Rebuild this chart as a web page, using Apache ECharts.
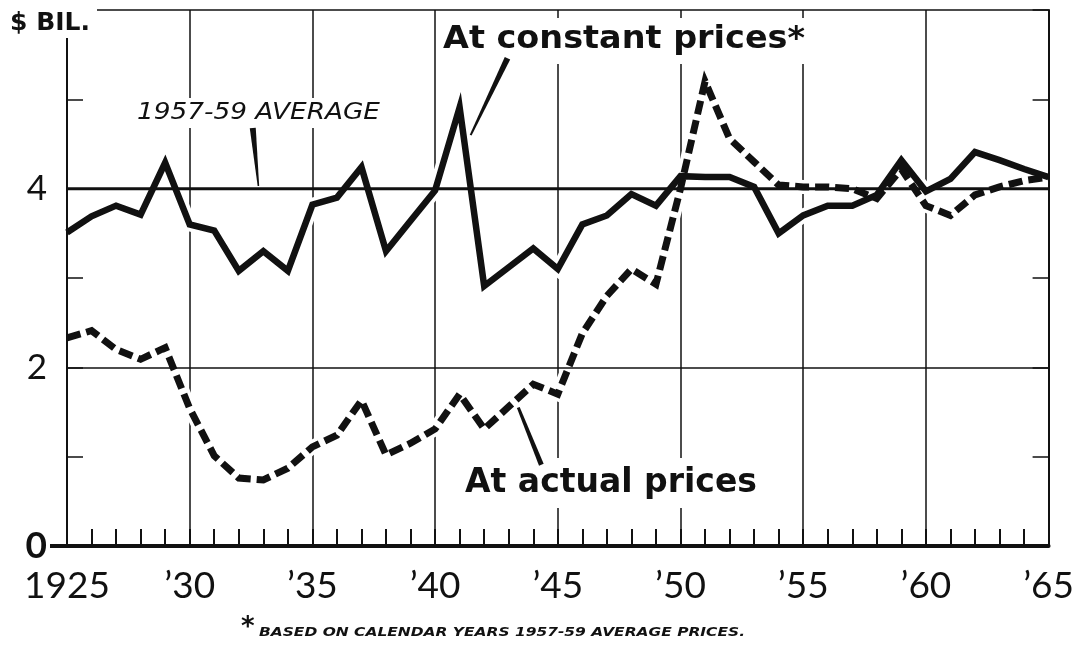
<!DOCTYPE html>
<html>
<head>
<meta charset="utf-8">
<script src="https://cdn.jsdelivr.net/npm/echarts@6/dist/echarts.min.js"></script>
<style>
html,body{margin:0;padding:0;background:#fff;}
#chart{width:1077px;height:648px;}
</style>
</head>
<body>
<div id="chart"></div>
<script>
// ---- data ----
const years = [1925,1926,1927,1928,1929,1930,1931,1932,1933,1934,
               1935,1936,1937,1938,1939,1940,1941,1942,1943,1944,
               1945,1946,1947,1948,1949,1950,1951,1952,1953,1954,
               1955,1956,1957,1958,1959,1960,1961,1962,1963,1964,1965];
const constantPrices = [3.51,3.69,3.81,3.71,4.29,3.60,3.53,3.08,3.30,3.08,
                        3.82,3.90,4.24,3.30,3.64,3.98,4.91,2.91,3.12,3.33,
                        3.10,3.60,3.70,3.94,3.81,4.14,4.13,4.13,4.02,3.50,
                        3.70,3.81,3.81,3.93,4.32,3.97,4.11,4.41,4.32,4.22,4.13];
const actualPrices   = [2.33,2.41,2.20,2.09,2.22,1.54,1.01,0.76,0.74,0.87,
                        1.11,1.24,1.63,1.02,1.15,1.31,1.70,1.31,1.56,1.81,
                        1.70,2.38,2.80,3.10,2.93,4.00,5.20,4.56,4.30,4.04,
                        4.02,4.02,4.00,3.89,4.22,3.81,3.70,3.93,4.02,4.09,4.13];
const averageLevel = 4.0;   // 1957-59 average
const averageSpan = [1925, 1965];
const xTickLabels = ['1925','\u201930','\u201935','\u201940','\u201945','\u201950','\u201955','\u201960','\u201965'];
const yTickLabels = {0:'{z|0}', 2:'2', 4:'4'};
const unitLabel = '$ BIL.';
const constantLabel = 'At constant prices*';
const actualLabel = 'At actual prices';
const averageLabel = '1957-59 AVERAGE';
const footnoteStar = '*';
const footnoteText = 'BASED ON CALENDAR YEARS 1957-59 AVERAGE PRICES.';

// ---- chart ----
const FONT = 'Lato, "Noto Sans", "DejaVu Sans", sans-serif';
const BOLDFONT = '"DejaVu Sans", Lato, sans-serif';
const INK = '#111';
const chart = echarts.init(document.getElementById('chart'), null, {renderer: 'canvas'});

const pairs = (vals) => years.map((y, i) => [y, vals[i]]);

const option = {
  animation: false,
  backgroundColor: '#fff',
  grid: {left: 67, right: 27, top: 10, bottom: 102},
  xAxis: {
    type: 'value', min: 1925, max: 1965, interval: 5, z: 0,
    axisLine: {show: true, onZero: false, lineStyle: {color: INK, width: 4}},
    axisTick: {show: true, inside: true, length: 17, lineStyle: {color: INK, width: 2}},
    minorTick: {show: true, splitNumber: 5, length: 17, lineStyle: {color: INK, width: 2}},
    splitLine: {show: true, lineStyle: {color: INK, width: 1.5}},
    axisLabel: {
      margin: 22, fontSize: 37, fontFamily: FONT, color: INK,
      formatter: v => xTickLabels[Math.round((v - 1925) / 5)] || ''
    }
  },
  yAxis: [
    {
      type: 'value', min: 0, max: 6, interval: 1, position: 'left', z: 2,
      axisLine: {show: true, lineStyle: {color: INK, width: 2}},
      axisTick: {show: true, inside: true, length: 16, lineStyle: {color: INK, width: 1.5}},
      splitLine: {show: true, lineStyle: {color: [INK, 'transparent'], width: 1.5}},
      axisLabel: {
        margin: 20, fontSize: 35, fontFamily: FONT, color: INK,
        formatter: v => yTickLabels[v] || '',
        rich: {z: {fontSize: 37, fontWeight: 'bold', fontFamily: FONT, color: INK}}
      }
    },
    {
      type: 'value', min: 0, max: 6, interval: 1, position: 'right', z: 2,
      axisLine: {show: true, lineStyle: {color: INK, width: 2}},
      axisTick: {show: true, inside: true, length: 16, lineStyle: {color: INK, width: 1.5}},
      splitLine: {show: false},
      axisLabel: {show: false}
    }
  ],
  series: [
    {type: 'line', name: 'halo1', data: pairs(constantPrices), symbol: 'none', silent: true, z: 1,
     lineStyle: {color: '#fff', width: 14, join: 'miter'}},
    {type: 'line', name: 'halo2', data: pairs(actualPrices), symbol: 'none', silent: true, z: 1,
     lineStyle: {color: '#fff', width: 14, join: 'miter'}},
    {type: 'line', name: '1957-59 average', data: averageSpan.map(y => [y, averageLevel]),
     symbol: 'none', silent: true, z: 3, lineStyle: {color: INK, width: 3}},
    {type: 'line', name: 'At constant prices', data: pairs(constantPrices), symbol: 'none', z: 4,
     lineStyle: {color: INK, width: 6.5, join: 'miter', miterLimit: 6}},
    {type: 'line', name: 'At actual prices', data: pairs(actualPrices), symbol: 'none', z: 5,
     lineStyle: {color: INK, width: 7, type: [14, 6], cap: 'butt', join: 'miter', miterLimit: 6}}
  ]
};
chart.setOption(option);

// ---- annotations (pointer anchors given in data space) ----
function px(p) { return chart.convertToPixel({xAxisIndex: 0, yAxisIndex: 0}, p); }
function wedge(a, b, w1, w2) {
  const p = px(a), q = px(b);
  const dx = q[0] - p[0], dy = q[1] - p[1];
  const L = Math.hypot(dx, dy) || 1;
  const nx = -dy / L, ny = dx / L;
  return [
    [p[0] + nx * w1 / 2, p[1] + ny * w1 / 2],
    [q[0] + nx * w2 / 2, q[1] + ny * w2 / 2],
    [q[0] - nx * w2 / 2, q[1] - ny * w2 / 2],
    [p[0] - nx * w1 / 2, p[1] - ny * w1 / 2]
  ];
}
// horizontal fit of a text to the span it takes in the reference
const mctx = document.createElement('canvas').getContext('2d');
function fitScale(text, font, target) {
  mctx.font = font;
  const w = mctx.measureText(text).width || 1;
  return target / w;
}
const origin = px([1925, 0]);

const fConst = 'bold 32px ' + BOLDFONT;
const fAct = 'bold 33px ' + BOLDFONT;
const fAvg = 'oblique 23px ' + BOLDFONT;
const fUnit = 'bold 24px ' + BOLDFONT;
const fNote = 'oblique bold 13px ' + BOLDFONT;

chart.setOption({
  graphic: [
    // bottom axis line extends a little left of the plot
    {type: 'rect', shape: {x: origin[0] - 17, y: origin[1] - 2, width: 18, height: 4}, style: {fill: INK}, z: 50},
    // unit label with white knock-out
    {type: 'rect', shape: {x: 0, y: 0, width: 97, height: 38}, style: {fill: '#fff'}, z: 60},
    {type: 'text', x: 10, y: 24, z: 61, scaleX: fitScale(unitLabel, fUnit, 80),
     style: {text: unitLabel, font: fUnit, fill: INK, verticalAlign: 'middle'}},
    // At constant prices*
    {type: 'rect', shape: {x: 436, y: 18, width: 374, height: 46}, style: {fill: '#fff'}, z: 60},
    {type: 'text', x: 443, y: 40, z: 61, scaleX: fitScale(constantLabel, fConst, 362),
     style: {text: constantLabel, font: fConst, fill: INK, verticalAlign: 'middle'}},
    {type: 'polygon', shape: {points: wedge([1942.95, 5.46], [1941.45, 4.6], 6, 2)}, style: {fill: INK}, z: 62},
    // 1957-59 AVERAGE
    {type: 'rect', shape: {x: 132, y: 98, width: 252, height: 30}, style: {fill: '#fff'}, z: 60},
    {type: 'text', x: 137, y: 113, z: 61, scaleX: fitScale(averageLabel, fAvg, 243),
     style: {text: averageLabel, font: fAvg, fill: INK, verticalAlign: 'middle'}},
    {type: 'polygon', shape: {points: wedge([1932.57, 4.68], [1932.8, 4.03], 6, 1.5)}, style: {fill: INK}, z: 62},
    // At actual prices
    {type: 'rect', shape: {x: 458, y: 458, width: 306, height: 50}, style: {fill: '#fff'}, z: 60},
    {type: 'text', x: 465, y: 483, z: 61, scaleX: fitScale(actualLabel, fAct, 292),
     style: {text: actualLabel, font: fAct, fill: INK, verticalAlign: 'middle'}},
    {type: 'polygon', shape: {points: wedge([1943.39, 1.55], [1944.33, 0.91], 3, 5)}, style: {fill: INK}, z: 62},
    // footnote
    {type: 'text', x: 241, y: 628, z: 61,
     style: {text: footnoteStar, font: 'bold 26px ' + BOLDFONT, fill: INK, verticalAlign: 'middle'}},
    {type: 'text', x: 259, y: 633, z: 61, scaleX: fitScale(footnoteText, fNote, 486),
     style: {text: footnoteText, font: fNote, fill: INK, verticalAlign: 'middle'}}
  ]
});
</script>
</body>
</html>
